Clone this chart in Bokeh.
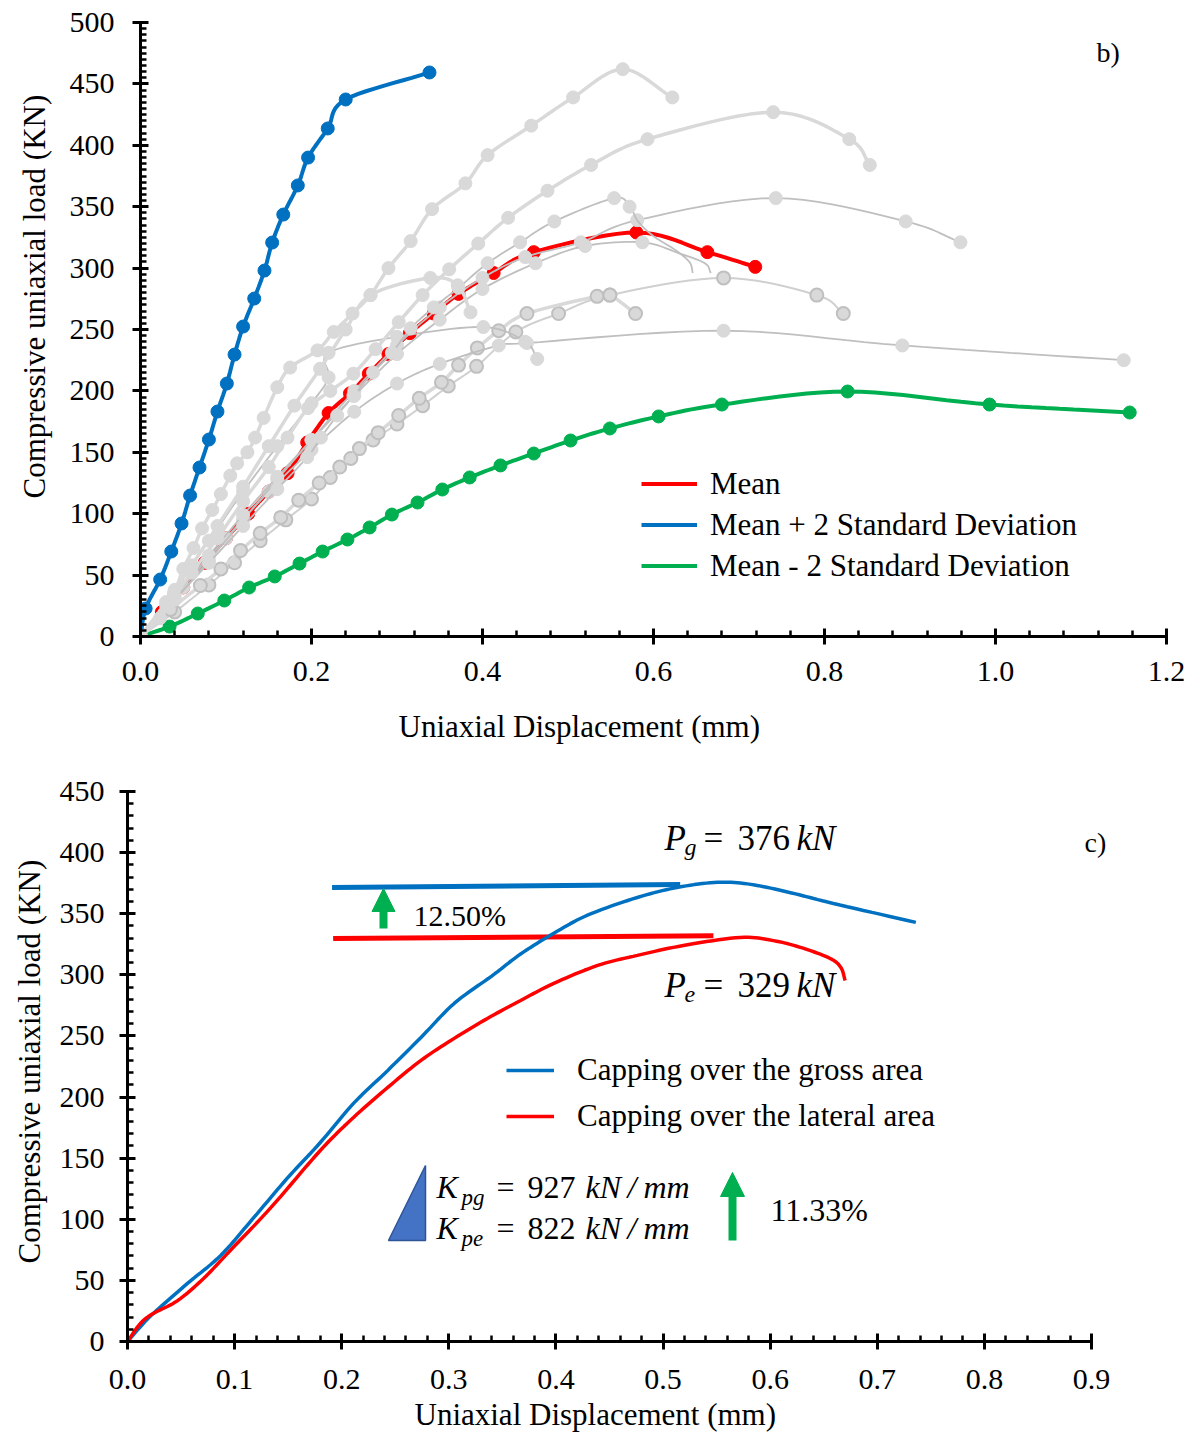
import numpy as np
from bokeh.plotting import figure
from bokeh.models import (FixedTicker, NumeralTickFormatter, Legend, LegendItem, Arrow, NormalHead,
                          Range1d, Label, Title)
from bokeh.layouts import column
from bokeh.embed import file_html
from bokeh.resources import INLINE

FONT = "Liberation Serif"
BLUE = "#0070C0"
GREEN = "#00B050"
RED = "#FF0000"
LIGHT = "#D9D9D9"
MID = "#BFBFBF"

# ------------------------------------------------------------------ panel b data
b_x_ticks = [0.0, 0.2, 0.4, 0.6, 0.8, 1.0, 1.2]
b_y_ticks = [0, 50, 100, 150, 200, 250, 300, 350, 400, 450, 500]

mean_x = [0, 0.025, 0.05, 0.075, 0.10, 0.126, 0.15, 0.172, 0.195, 0.22, 0.245, 0.267, 0.29, 0.315,
          0.343, 0.372, 0.413, 0.46, 0.58, 0.663, 0.719]
mean_y = [0, 20, 40, 60, 80, 100, 118, 133, 158, 182, 198, 214, 230, 247, 263, 279, 296, 313, 329, 313, 301]

plus_x = [0, 0.006, 0.023, 0.036, 0.048, 0.058, 0.069, 0.080, 0.090, 0.101, 0.110, 0.120, 0.133, 0.145,
          0.154, 0.167, 0.184, 0.196, 0.219, 0.240, 0.338]
plus_y = [0, 22.8, 46.4, 69.2, 92.0, 114.8, 137.6, 160.4, 183.2, 206.0, 229.6, 252.4, 275.2, 298.0,
          320.8, 343.6, 367.3, 390.0, 413.7, 437.3, 459.3]

minus_x = [0, 0.034, 0.067, 0.098, 0.127, 0.157, 0.186, 0.213, 0.242, 0.268, 0.294, 0.324, 0.353, 0.385,
           0.421, 0.460, 0.503, 0.549, 0.606, 0.680, 0.827, 0.993, 1.157]
minus_y = [0, 8.1, 18.7, 29.3, 39.9, 48.9, 59.4, 69.2, 79.0, 88.8, 99.3, 109.1, 119.7, 129.5,
           139.3, 149.0, 159.6, 169.4, 179.2, 188.9, 199.5, 188.9, 182.4]

# individual specimens (grey)
sA_x = [0, 0.023, 0.039, 0.050, 0.062, 0.072, 0.084, 0.094, 0.105, 0.113, 0.125, 0.134, 0.144, 0.160, 0.175,
        0.207, 0.226, 0.248, 0.269, 0.290, 0.316, 0.341, 0.380, 0.406, 0.457, 0.506, 0.564, 0.622]
sA_y = [0, 15, 35, 55, 72, 88, 103, 116, 131, 141, 150, 162, 178, 203, 219,
        233, 248, 263, 278, 300, 322, 348, 369, 392, 416, 439, 462, 439]

sB_x = [0, 0.03, 0.06, 0.09, 0.12, 0.15, 0.172, 0.196, 0.222, 0.249, 0.275, 0.302, 0.330, 0.361, 0.395,
        0.430, 0.476, 0.527, 0.593, 0.740, 0.829, 0.853]
sB_y = [0, 25, 52, 80, 110, 138, 162, 186, 200, 214, 234, 256, 278, 299, 320,
        341, 363, 384, 405, 427, 405, 384]

sC_x = [0, 0.04, 0.08, 0.12, 0.16, 0.195, 0.211, 0.230, 0.249, 0.272, 0.294, 0.316, 0.343, 0.372, 0.406,
        0.444, 0.484, 0.554, 0.572, 0.582, 0.60, 0.625, 0.642, 0.646]
sC_y = [0, 30, 60, 90, 120, 146, 162, 180, 196, 215, 231, 251, 268, 284, 304,
        321, 338, 357, 350, 338, 326, 315, 305, 296]

sD_x = [0, 0.04, 0.08, 0.12, 0.16, 0.20, 0.25, 0.30, 0.35, 0.40, 0.45, 0.515, 0.581, 0.743, 0.895, 0.959]
sD_y = [0, 30, 62, 95, 128, 160, 200, 237, 268, 292, 309, 321, 339, 357, 338, 321]

sE_x = [0, 0.04, 0.08, 0.12, 0.16, 0.20, 0.25, 0.30, 0.35, 0.40, 0.462, 0.52, 0.587, 0.63, 0.66, 0.667]
sE_y = [0, 33, 66, 99, 130, 160, 196, 230, 258, 283, 304, 318, 321, 312, 304, 296]

sF1_x = [0, 0.035, 0.070, 0.094, 0.117, 0.140, 0.164, 0.185, 0.209, 0.233, 0.256, 0.278, 0.302, 0.326,
         0.352, 0.372, 0.394, 0.419, 0.452, 0.534, 0.549, 0.579]
sF1_y = [0, 22, 41.5, 55, 70, 84, 97, 111, 125, 138, 153, 166, 180, 194,
         207, 221, 235, 249, 263, 277, 278, 263]

sF2_x = [0, 0.04, 0.08, 0.11, 0.14, 0.17, 0.20, 0.222, 0.246, 0.272, 0.300, 0.330, 0.360, 0.393, 0.439,
         0.489, 0.549, 0.682, 0.791, 0.822]
sF2_y = [0, 20, 42, 60, 78, 95, 112, 129.5, 145, 160, 173, 188, 204, 220, 248,
         263, 278, 292, 278, 263]

sG1_x = [0, 0.04, 0.08, 0.12, 0.16, 0.20, 0.22, 0.22, 0.30, 0.401, 0.45, 0.464]
sG1_y = [0, 38, 78, 118, 155, 190, 211, 231, 244, 252, 240, 226]

sG2_x = [0, 0.05, 0.10, 0.15, 0.20, 0.25, 0.30, 0.35, 0.419, 0.452, 0.682, 0.891, 1.150]
sG2_y = [0, 40, 80, 118, 152, 183, 206, 222, 237, 239, 249, 237, 225]

sH_x = [0, 0.03, 0.06, 0.09, 0.12, 0.15, 0.18, 0.21, 0.24, 0.269, 0.339, 0.371, 0.386]
sH_y = [0, 28, 58, 90, 122, 155, 188, 218, 250, 278, 292, 286, 264]

# ------------------------------------------------------------------ panel c data
c_x_ticks = [0.0, 0.1, 0.2, 0.3, 0.4, 0.5, 0.6, 0.7, 0.8, 0.9]
c_y_ticks = [0, 50, 100, 150, 200, 250, 300, 350, 400, 450]

gross_x = [0, 0.012, 0.024, 0.056, 0.087, 0.118, 0.149, 0.180, 0.211, 0.243, 0.274, 0.305, 0.340, 0.367,
           0.398, 0.430, 0.476, 0.514, 0.551, 0.582, 0.620, 0.659, 0.736]
gross_y = [0, 12, 22.9, 47.5, 70.4, 101.5, 133.4, 162.8, 194.8, 221.8, 248.8, 276.6, 299, 317,
           334, 349, 363.3, 371.6, 375.7, 374, 367, 358.4, 342.9]

lateral_x = [0, 0.012, 0.024, 0.047, 0.071, 0.096, 0.134, 0.180, 0.211, 0.243, 0.274, 0.305, 0.336, 0.367,
             0.398, 0.439, 0.476, 0.519, 0.572, 0.603, 0.630, 0.656, 0.666, 0.670]
lateral_y = [0, 14.7, 22.9, 33.6, 51.6, 74.5, 109.7, 156.3, 183.3, 207.9, 230, 248, 264.3, 279,
             293, 307.7, 315.9, 324, 330.6, 328, 322, 313.4, 306, 295.4]

peak_gross_x = [0.191, 0.516]
peak_gross_y = [371.5, 374.0]
peak_lat_x = [0.192, 0.547]
peak_lat_y = [329.8, 332.0]


# ------------------------------------------------------------------ helpers
def smooth(xs, ys, sx, sy, n=10):
    pts = np.column_stack([np.asarray(xs, float) * sx, np.asarray(ys, float) * sy])
    if len(pts) < 3:
        return list(xs), list(ys)
    P = np.vstack([2 * pts[0] - pts[1], pts, 2 * pts[-1] - pts[-2]])
    out = []
    for i in range(1, len(P) - 2):
        p0, p1, p2, p3 = P[i - 1], P[i], P[i + 1], P[i + 2]
        for t in np.linspace(0, 1, n, endpoint=False):
            t2, t3 = t * t, t * t * t
            out.append(0.5 * (2 * p1 + (-p0 + p2) * t + (2 * p0 - 5 * p1 + 4 * p2 - p3) * t2
                              + (-p0 + 3 * p1 - 3 * p2 + p3) * t3))
    out.append(pts[-1])
    out = np.array(out)
    return out[:, 0] / sx, out[:, 1] / sy


def style_axes(p, xt, xminor, yt, yminor, tick_size, xstand, ystand, xbounds):
    p.xaxis.ticker = FixedTicker(ticks=xt, minor_ticks=xminor)
    p.yaxis.ticker = FixedTicker(ticks=yt, minor_ticks=yminor)
    p.xaxis.formatter = NumeralTickFormatter(format="0.0")
    p.xaxis.bounds = xbounds
    for ax in (p.xaxis[0], p.yaxis[0]):
        ax.axis_line_width = 3
        ax.axis_line_color = "black"
        ax.major_tick_line_width = 3
        ax.minor_tick_line_width = 2.5
        ax.major_tick_in = 8
        ax.major_tick_out = 8
        ax.minor_tick_in = 6
        ax.minor_tick_out = 0
        ax.major_label_text_font = FONT
        ax.major_label_text_font_size = tick_size
        ax.major_label_text_color = "black"
    p.xaxis.major_label_standoff = xstand
    p.yaxis.major_label_standoff = ystand
    p.grid.visible = False
    p.outline_line_color = None


def axis_title(p, text, side, offset, standoff, lh=1.0):
    p.add_layout(Title(text=text, align="left", offset=offset, standoff=standoff, text_font=FONT,
                       text_font_size="31px", text_font_style="normal", text_color="black",
                       text_line_height=lh), side)


# ------------------------------------------------------------------ panel b
pb = figure(width=1196, height=773, output_backend="svg", toolbar_location=None,
            x_range=Range1d(0, 1.2), y_range=Range1d(0, 500), frame_align=False,
            min_border_left=140, min_border_right=30, min_border_top=22, min_border_bottom=137)
pb.background_fill_color = "white"
pb.border_fill_color = "white"
style_axes(pb, b_x_ticks, [round(0.04 * i, 2) for i in range(31)], b_y_ticks, list(range(0, 501, 5)),
           "30px", 17, 18, (0, 1.2))
axis_title(pb, "Uniaxial Displacement (mm)", "below", 258, 47)
axis_title(pb, "Compressive uniaxial load (KN)", "left", 138, 29, 0.75)

SB = (855.0, 1.228)

rx, ry = smooth(mean_x, mean_y, *SB)
r_mean = pb.line(rx, ry, line_color=RED, line_width=4)
pb.scatter(mean_x[1:], mean_y[1:], size=13, fill_color=RED, line_color=RED)

bx_, by_ = smooth(plus_x, plus_y, *SB)
r_plus = pb.line(bx_, by_, line_color=BLUE, line_width=4)
pb.scatter(plus_x[1:], plus_y[1:], size=13, fill_color=BLUE, line_color=BLUE)

gx, gy = smooth(minus_x, minus_y, *SB)
r_minus = pb.line(gx, gy, line_color=GREEN, line_width=4)
pb.scatter(minus_x[1:], minus_y[1:], size=13, fill_color=GREEN, line_color=GREEN)

specimens = [
    # x, y, line colour, line width, marker outline, number of marked points
    (sF2_x, sF2_y, "#D0D0D0", 2, MID, len(sF2_x)),
    (sF1_x, sF1_y, LIGHT, 3.5, MID, len(sF1_x)),
    (sG2_x, sG2_y, MID, 1.8, None, len(sG2_x)),
    (sG1_x, sG1_y, MID, 1.8, None, len(sG1_x)),
    (sD_x, sD_y, MID, 1.8, None, len(sD_x)),
    (sE_x, sE_y, MID, 1.8, None, len(sE_x) - 3),
    (sC_x, sC_y, MID, 1.8, None, len(sC_x) - 5),
    (sH_x, sH_y, LIGHT, 3.5, None, len(sH_x)),
    (sB_x, sB_y, LIGHT, 3.5, None, len(sB_x)),
    (sA_x, sA_y, LIGHT, 3.5, None, len(sA_x)),
]
for xs, ys, lc, lw, mo, nm in specimens:
    sx, sy = smooth(xs, ys, *SB)
    pb.line(sx, sy, line_color=lc, line_width=lw)
    if mo is None:
        pb.scatter(xs[:nm], ys[:nm], size=13, fill_color=LIGHT, line_color=LIGHT)
    else:
        pb.scatter(xs[:nm], ys[:nm], size=13, fill_color=LIGHT, line_color=mo, line_width=2)

leg_b = Legend(items=[LegendItem(label="Mean", renderers=[r_mean]),
                      LegendItem(label="Mean + 2 Standard Deviation", renderers=[r_plus]),
                      LegendItem(label="Mean - 2 Standard Deviation", renderers=[r_minus])],
               location=(501, 50), glyph_width=56, glyph_height=41, label_height=41, spacing=0,
               padding=0, margin=0, label_standoff=13, border_line_color=None,
               background_fill_alpha=0, label_text_font=FONT, label_text_font_size="31px",
               label_text_color="black")
pb.add_layout(leg_b)


def bpx(px):
    return (px - 140) / 855.0


def bpy(py):
    return (636 - py) / 1.228


pb.add_layout(Label(x=bpx(1096), y=bpy(52), text="b)", text_font=FONT, text_font_size="28px",
                    text_baseline="middle", text_align="left", text_color="black"))

# ------------------------------------------------------------------ panel c
C_XEND = 0.9 + 30 / 1071.1
pc = figure(width=1196, height=663, output_backend="svg", toolbar_location=None,
            x_range=Range1d(0, C_XEND), y_range=Range1d(0, 450), frame_align=False,
            min_border_left=127, min_border_right=75, min_border_top=18, min_border_bottom=95)
pc.background_fill_color = "white"
pc.border_fill_color = "white"
style_axes(pc, c_x_ticks, [round(0.02 * i, 2) for i in range(46)], c_y_ticks, list(range(0, 451, 10)),
           "30px", 20, 15, (0, 0.9))
axis_title(pc, "Uniaxial Displacement (mm)", "below", 287, 6)
axis_title(pc, "Compressive uniaxial load (KN)", "left", 78, 19, 0.75)

SC = (1071.1, 1.2222)


def cpx(px):
    return (px - 127) / 1071.1


def cpy(py):
    return (1341 - py) / 1.2222


pc.line(peak_gross_x, peak_gross_y, line_color=BLUE, line_width=5)
pc.line(peak_lat_x, peak_lat_y, line_color=RED, line_width=5)
gx2, gy2 = smooth(gross_x, gross_y, *SC)
r_gross = pc.line(gx2, gy2, line_color=BLUE, line_width=3.5)
lx2, ly2 = smooth(lateral_x, lateral_y, *SC)
r_lat = pc.line(lx2, ly2, line_color=RED, line_width=3.5)

leg_c = Legend(items=[LegendItem(label="Capping over the gross area", renderers=[r_gross]),
                      LegendItem(label="Capping over the lateral area", renderers=[r_lat])],
               location=(379, 202), glyph_width=48, glyph_height=46, label_height=46, spacing=0,
               padding=0, margin=0, label_standoff=23, border_line_color=None,
               background_fill_alpha=0, label_text_font=FONT, label_text_font_size="31px",
               label_text_color="black")
pc.add_layout(leg_c)

# arrows
pc.add_layout(Arrow(end=NormalHead(size=23, fill_color=GREEN, line_color=GREEN, line_width=1),
                    x_start=cpx(383), y_start=cpy(928), x_end=cpx(383), y_end=cpy(888),
                    line_color=GREEN, line_width=8))
pc.add_layout(Arrow(end=NormalHead(size=24, fill_color=GREEN, line_color=GREEN, line_width=1),
                    x_start=cpx(732), y_start=cpy(1240), x_end=cpx(732), y_end=cpy(1172),
                    line_color=GREEN, line_width=8))

# stiffness triangle
pc.patch([cpx(388), cpx(425), cpx(425)], [cpy(1240), cpy(1165), cpy(1240)],
         fill_color="#4472C4", line_color="#2F5597", line_width=1.5)


def ctext(px, py, txt, size, style="normal"):
    pc.add_layout(Label(x=cpx(px), y=cpy(py), text=txt, text_font=FONT, text_font_size=f"{size}px",
                        text_font_style=style, text_baseline="middle", text_align="left",
                        text_color="black"))


ctext(413, 915, "12.50%", 30)
ctext(770, 1210, "11.33%", 32)
ctext(1084, 842, "c)", 28)

# P_g = 376 kN
ctext(664, 838, "P", 35, "italic")
ctext(684, 847, "g", 24, "italic")
ctext(703, 838, "=", 35)
ctext(737, 838, "376", 35)
ctext(796, 838, "kN", 35, "italic")
# P_e = 329 kN
ctext(664, 985, "P", 35, "italic")
ctext(684, 994, "e", 24, "italic")
ctext(703, 985, "=", 35)
ctext(737, 985, "329", 35)
ctext(796, 985, "kN", 35, "italic")
# K_pg = 927 kN/mm
ctext(436, 1187, "K", 32, "italic")
ctext(461, 1197, "pg", 23, "italic")
ctext(496, 1187, "=", 32)
ctext(527, 1187, "927", 32)
ctext(585, 1187, "kN", 32, "italic")
ctext(627, 1187, "/", 32, "italic")
ctext(643, 1187, "mm", 32, "italic")
# K_pe = 822 kN/mm
ctext(436, 1228, "K", 32, "italic")
ctext(461, 1238, "pe", 23, "italic")
ctext(496, 1228, "=", 32)
ctext(527, 1228, "822", 32)
ctext(585, 1228, "kN", 32, "italic")
ctext(627, 1228, "/", 32, "italic")
ctext(643, 1228, "mm", 32, "italic")

layout = column(pb, pc, spacing=0)
open("out.html", "w").write(file_html(layout, INLINE))
